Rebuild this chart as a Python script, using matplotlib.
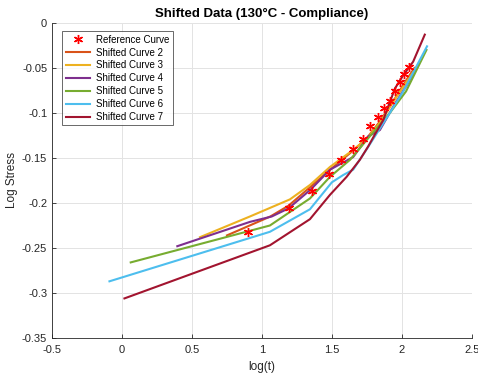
import numpy as np
import matplotlib.pyplot as plt

plt.rcParams['font.family'] = ['Liberation Sans', 'DejaVu Sans']

# reference curve (log time vs log stress)
ref_x = [0.90, 1.19, 1.36, 1.48, 1.567, 1.648, 1.719, 1.774, 1.829, 1.871, 1.912, 1.952, 1.986, 2.019, 2.05]
ref_y = [-0.232, -0.206, -0.187, -0.168, -0.152, -0.140, -0.129, -0.115, -0.104, -0.095, -0.087, -0.076, -0.066, -0.057, -0.049]

# shifted curves
c2_x = [0.75, 1.06, 1.19, 1.34, 1.48, 1.65, 1.75, 1.84, 1.95, 2.03, 2.09]
c2_y = [-0.236, -0.215, -0.203, -0.183, -0.164, -0.142, -0.128, -0.110, -0.084, -0.064, -0.050]
c3_x = [0.557, 0.914, 1.20, 1.343, 1.486, 1.652, 1.748, 1.843, 1.95, 2.04, 2.11]
c3_y = [-0.238, -0.215, -0.196, -0.180, -0.160, -0.141, -0.129, -0.111, -0.085, -0.064, -0.048]
c4_x = [0.395, 0.914, 1.07, 1.19, 1.349, 1.486, 1.652, 1.76, 1.843, 1.95, 2.04, 2.12]
c4_y = [-0.248, -0.221, -0.215, -0.206, -0.185, -0.163, -0.149, -0.126, -0.119, -0.090, -0.068, -0.046]
c5_x = [0.062, 1.057, 1.343, 1.486, 1.63, 1.76, 1.914, 2.03, 2.176]
c5_y = [-0.266, -0.225, -0.195, -0.171, -0.152, -0.128, -0.100, -0.076, -0.030]
c6_x = [-0.09, 1.057, 1.343, 1.50, 1.58, 1.652, 1.75, 1.914, 2.01, 2.18]
c6_y = [-0.287, -0.232, -0.207, -0.177, -0.169, -0.163, -0.140, -0.100, -0.076, -0.026]
c7_x = [0.017, 1.057, 1.343, 1.486, 1.605, 1.70, 1.76, 1.807, 1.867, 1.95, 2.01, 2.081, 2.164]
c7_y = [-0.306, -0.247, -0.218, -0.191, -0.171, -0.152, -0.137, -0.124, -0.108, -0.073, -0.058, -0.043, -0.013]

curves = [(c2_x, c2_y, '#D95319', 'Shifted Curve 2'),
          (c3_x, c3_y, '#EDB120', 'Shifted Curve 3'),
          (c4_x, c4_y, '#7E2F8E', 'Shifted Curve 4'),
          (c5_x, c5_y, '#77AC30', 'Shifted Curve 5'),
          (c6_x, c6_y, '#4DBEEE', 'Shifted Curve 6'),
          (c7_x, c7_y, '#A2142F', 'Shifted Curve 7')]

fig = plt.figure(figsize=(4.78, 3.76), dpi=100)
ax = fig.add_axes([0.109, 0.101, 0.878, 0.838])

# asterisk marker for the reference points, drawn over the lines
ax.plot(ref_x, ref_y, linestyle='none', marker=(6, 2, 0), color='#FF0000', markersize=6.5,
        markeredgewidth=1.0, label='Reference Curve', zorder=3)
for xs, ys, col, name in curves:
    ax.plot(xs, ys, color=col, linewidth=1.5, label=name, zorder=2)

ax.set_xlim(-0.5, 2.5)
ax.set_ylim(-0.35, 0)
xt = [-0.5, 0, 0.5, 1, 1.5, 2, 2.5]
yt = [-0.35, -0.3, -0.25, -0.2, -0.15, -0.1, -0.05, 0]
ax.set_xticks(xt)
ax.set_xticklabels(['-0.5', '0', '0.5', '1', '1.5', '2', '2.5'])
ax.set_yticks(yt)
ax.set_yticklabels(['-0.35', '-0.3', '-0.25', '-0.2', '-0.15', '-0.1', '-0.05', '0'])
ax.tick_params(direction='in', length=3, width=0.6, labelsize=8, colors='#262626')
ax.tick_params(axis='x', pad=5)
ax.grid(True, color='#E3E3E3', linewidth=0.7)
ax.set_axisbelow(True)
for s in ['top', 'right']:
    ax.spines[s].set_visible(False)
for s in ['left', 'bottom']:
    ax.spines[s].set_color('#262626')
    ax.spines[s].set_linewidth(0.6)

ax.set_xlabel('log(t)', fontsize=8.5, color='#262626', labelpad=4)
ax.set_ylabel('Log Stress', fontsize=8.5, color='#262626', labelpad=3)
ax.set_title('Shifted Data (130°C - Compliance)', fontsize=9.5, fontweight='bold', pad=4)

leg = ax.legend(loc='upper left', bbox_to_anchor=(0.02, 0.98), fontsize=7, frameon=True,
                fancybox=False, edgecolor='#262626', handlelength=2.5, borderpad=0.35,
                labelspacing=0.3, handletextpad=0.6, borderaxespad=0.2)
leg.get_frame().set_linewidth(0.6)

fig.savefig('out.png', dpi=100)
